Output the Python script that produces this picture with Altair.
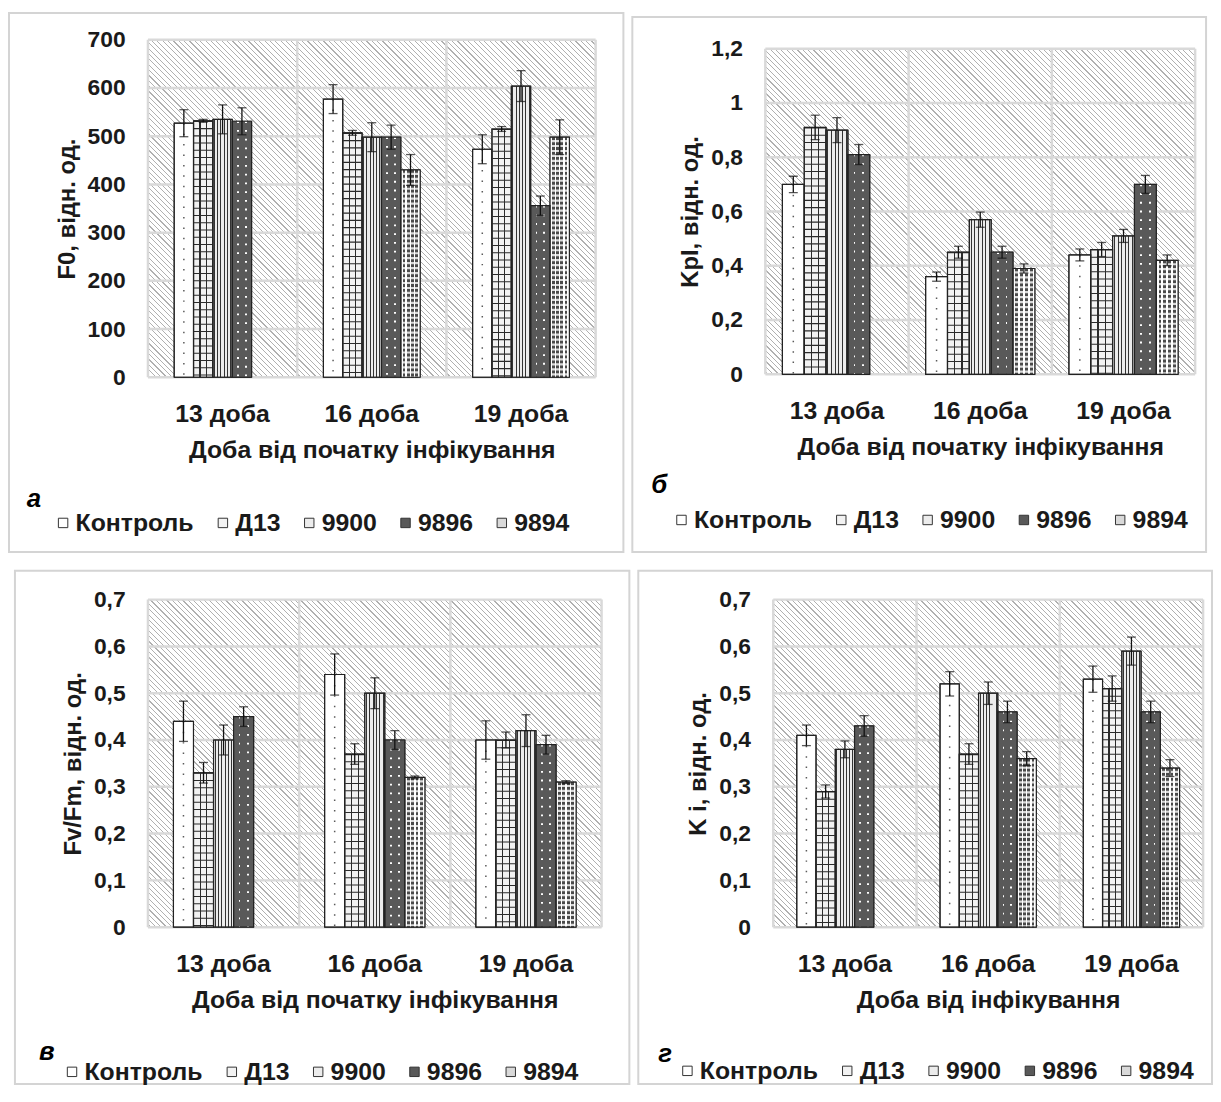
import altair as alt
import pandas as pd

GROUPS = ["13 доба", "16 доба", "19 доба"]
SERIES = ["Контроль", "Д13", "9900", "9896", "9894"]

# panel а : F0 (rows follow SERIES, columns follow GROUPS)
F0_VALUES = [[527, 577, 473], [532, 507, 515], [535, 498, 604], [531, 498, 356], [None, 430, 498]]
F0_ERRORS = [[28, 30, 30], [3, 5, 5], [30, 30, 32], [28, 25, 20], [None, 32, 36]]
F0_TICKS = [0, 100, 200, 300, 400, 500, 600, 700]

# panel б : KpI
KPI_VALUES = [[0.70, 0.36, 0.44], [0.91, 0.45, 0.46], [0.90, 0.57, 0.51], [0.81, 0.45, 0.70], [None, 0.39, 0.42]]
KPI_ERRORS = [[0.03, 0.017, 0.022], [0.045, 0.022, 0.026], [0.046, 0.028, 0.024], [0.037, 0.022, 0.033], [None, 0.017, 0.02]]
KPI_TICKS = [0, 0.2, 0.4, 0.6, 0.8, 1, 1.2]

# panel в : Fv/Fm
FV_VALUES = [[0.44, 0.54, 0.40], [0.33, 0.37, 0.40], [0.40, 0.50, 0.42], [0.45, 0.40, 0.39], [None, 0.32, 0.31]]
FV_ERRORS = [[0.043, 0.044, 0.041], [0.022, 0.022, 0.017], [0.032, 0.033, 0.034], [0.021, 0.02, 0.02], [None, 0.003, 0.003]]
FV_TICKS = [0, 0.1, 0.2, 0.3, 0.4, 0.5, 0.6, 0.7]

# panel г : K i
KI_VALUES = [[0.41, 0.52, 0.53], [0.29, 0.37, 0.51], [0.38, 0.50, 0.59], [0.43, 0.46, 0.46], [None, 0.36, 0.34]]
KI_ERRORS = [[0.022, 0.026, 0.028], [0.014, 0.022, 0.027], [0.018, 0.024, 0.03], [0.022, 0.023, 0.023], [None, 0.015, 0.018]]
KI_TICKS = [0, 0.1, 0.2, 0.3, 0.4, 0.5, 0.6, 0.7]

FONT = "Liberation Sans, Arial, Helvetica, sans-serif"
INK = "#1a1a1a"
GRID = "#d9d9d9"
CLEAR = "rgba(255,255,255,0)"
FILL_RANGE = ["#ffffff", "#f2f2f2", "#ececec", "#595959", "#d9d9d9"]


def long_table(values, errors):
    rows = []
    for s, vals, errs in zip(SERIES, values, errors):
        for g, v, e in zip(GROUPS, vals, errs):
            if v is None:
                continue
            rows.append({"group": g, "series": s, "value": v, "err": e})
    return pd.DataFrame(rows)


def stops_from(intervals, on, off):
    stops = [{"offset": 0, "color": off}]
    for a, b in intervals:
        a = round(max(0.0, min(1.0, a)), 5)
        b = round(max(0.0, min(1.0, b)), 5)
        stops += [
            {"offset": a, "color": off},
            {"offset": a, "color": on},
            {"offset": b, "color": on},
            {"offset": b, "color": off},
        ]
    stops.append({"offset": 1, "color": off})
    return stops


def vstripes(intervals, on, off):
    return {"gradient": "linear", "x1": 0, "y1": 0, "x2": 1, "y2": 0,
            "stops": stops_from(intervals, on, off)}


def hatch(w, h, period=5.4, lw=1.2, line="#b0b0b0", bg="#ffffff"):
    total = w + h
    s = total / (w * w + h * h)
    intervals = []
    k = 0
    while True:
        a = (k * period + (period - lw) / 2) / total
        b = a + lw / total
        if b >= 1:
            break
        intervals.append((a, b))
        k += 1
    return {"gradient": "linear", "x1": 0, "y1": 1,
            "x2": round(w * s, 5), "y2": round(1 - h * s, 5),
            "stops": stops_from(intervals, line, bg)}


def panel(values, errors, ticks, y_title, x_title, letter, W, H, top, bw,
          frame, legend_at, letter_at):
    """top: pixel gap between the view top and the highest tick (layout only)."""
    df = long_table(values, errors)
    band = W / 3
    xs = alt.Scale(domain=GROUPS, paddingInner=0, paddingOuter=0)
    xos = alt.Scale(domain=SERIES, paddingInner=0, paddingOuter=0,
                    range=[round((band - 5 * bw) / 2, 2), round((band + 5 * bw) / 2, 2)])
    ys = alt.Scale(domain=[0, ticks[-1]], nice=False, zero=True, range=[H, top])
    x_axis = alt.Axis(title=x_title, labelAngle=0, grid=False, domain=False,
                      ticks=False, tickSize=0, labelPadding=25, titlePadding=11,
                      labelFontSize=25, titleFontSize=25)
    y_axis = alt.Axis(title=y_title, values=ticks, grid=False, domain=False,
                      ticks=False, tickSize=0, labelPadding=23, titlePadding=8,
                      labelFontSize=23, titleFontSize=24,
                      labelExpr="replace(format(datum.value, '~g'), '.', ',')")
    X = alt.X("group:N", scale=xs, axis=x_axis)
    XO = alt.XOffset("series:N", scale=xos)

    def Yf(field):
        return alt.Y(f"{field}:Q", scale=ys, axis=y_axis)

    base = alt.Chart(df)
    one = pd.DataFrame({"k": [0]})

    def only(name):
        return base.transform_filter(alt.datum.series == name)

    layers = []
    # hatched plot background
    layers.append(alt.Chart(one).mark_rect(fill=hatch(W, H - top)).encode(
        x=alt.value(0), x2=alt.value(W), y=alt.value(top), y2=alt.value(H)))
    # gridlines
    layers.append(alt.Chart(pd.DataFrame({"tick": ticks})).mark_rule(
        color=GRID, strokeWidth=2.5).encode(y=Yf("tick")))
    layers.append(alt.Chart(pd.DataFrame({"group": GROUPS})).mark_rule(
        color=GRID, strokeWidth=2.5).encode(
        x=alt.X("group:N", scale=xs, axis=x_axis, bandPosition=0),
        y=alt.value(top), y2=alt.value(H)))
    layers.append(alt.Chart(pd.DataFrame({"group": GROUPS[-1:]})).mark_rule(
        color=GRID, strokeWidth=2.5).encode(
        x=alt.X("group:N", scale=xs, axis=x_axis, bandPosition=1),
        y=alt.value(top), y2=alt.value(H)))

    legend = alt.Legend(orient="none", legendX=legend_at[0], legendY=legend_at[1],
                        direction="horizontal", title=None)
    layers.append(base.mark_bar(stroke="#222222", strokeWidth=1).encode(
        x=X, xOffset=XO, y=Yf("value"),
        fill=alt.Fill("series:N", scale=alt.Scale(domain=SERIES, range=FILL_RANGE),
                      legend=legend)))

    # Контроль: sparse dots
    layers.append(only("Контроль").mark_rule(
        color="#5a5a5a", strokeWidth=1.5, strokeDash=[1.5, 9]).encode(
        x=X, xOffset=XO, y=Yf("value"), y2=alt.Y2Datum(0)))

    # Д13: lattice
    u = 1.1 / bw
    layers.append(only("Д13").mark_rule(
        color="#2b2b2b", strokeWidth=bw - 1, strokeDash=[1.1, 6.2]).encode(
        x=X, xOffset=XO, y=Yf("value"), y2=alt.Y2Datum(0)))
    layers.append(only("Д13").mark_bar(
        fill=vstripes([(1 / 3 - u / 2, 1 / 3 + u / 2), (2 / 3 - u / 2, 2 / 3 + u / 2)],
                      "#2b2b2b", CLEAR)).encode(x=X, xOffset=XO, y=Yf("value")))

    # 9900: fine stripes
    n = 6
    u = 1.0 / bw
    layers.append(only("9900").mark_bar(
        fill=vstripes([((i + 0.5) / n - u / 2, (i + 0.5) / n + u / 2) for i in range(n)],
                      "#333333", CLEAR)).encode(x=X, xOffset=XO, y=Yf("value")))

    # 9896: dark with white dots
    layers.append(only("9896").mark_rule(
        color="#ffffff", strokeWidth=bw - 1, strokeDash=[1.8, 7]).encode(
        x=X, xOffset=XO, y=Yf("value"), y2=alt.Y2Datum(0)))
    w = 1.8 / bw
    layers.append(only("9896").mark_bar(
        fill=vstripes([(c - w / 2, c + w / 2) for c in (0.3, 0.7)], CLEAR, "#595959")).encode(
        x=X, xOffset=XO, y=Yf("value")))

    # 9894: dark specks
    layers.append(only("9894").mark_rule(
        color="#4a4a4a", strokeWidth=bw - 1, strokeDash=[2.8, 2.2]).encode(
        x=X, xOffset=XO, y=Yf("value"), y2=alt.Y2Datum(0)))
    w = 2.8 / bw
    layers.append(only("9894").mark_bar(
        fill=vstripes([(c - w / 2, c + w / 2) for c in (0.17, 0.39, 0.61, 0.83)], CLEAR, "#ffffff")).encode(
        x=X, xOffset=XO, y=Yf("value")))

    # bar outlines
    layers.append(base.mark_bar(fillOpacity=0, stroke="#222222", strokeWidth=1.2).encode(
        x=X, xOffset=XO, y=Yf("value")))

    # error bars
    eb = base.transform_calculate(lo="datum.value - datum.err", hi="datum.value + datum.err")
    layers.append(eb.mark_rule(color="#111111", strokeWidth=1.3).encode(
        x=X, xOffset=XO, y=Yf("lo"), y2=alt.Y2("hi")))
    layers.append(eb.mark_tick(color="#111111", thickness=1.3, size=9).encode(
        x=X, xOffset=XO, y=Yf("lo")))
    layers.append(eb.mark_tick(color="#111111", thickness=1.3, size=9).encode(
        x=X, xOffset=XO, y=Yf("hi")))

    # panel letter
    layers.append(alt.Chart(pd.DataFrame({"letter": [letter]})).mark_text(
        font=FONT, fontSize=26, fontWeight="bold", fontStyle="italic", color="#000000",
        align="center", baseline="middle").encode(
        x=alt.value(letter_at[0]), y=alt.value(letter_at[1]), text="letter:N"))

    # panel frame
    layers.append(alt.Chart(one).mark_rect(fillOpacity=0, stroke="#d4d4d4", strokeWidth=2).encode(
        x=alt.value(frame[0]), x2=alt.value(frame[1]), y=alt.value(frame[2]), y2=alt.value(frame[3])))

    return alt.layer(*layers).properties(width=W, height=H)


pa = panel(F0_VALUES, F0_ERRORS, F0_TICKS, "F0, відн. од.", "Доба від початку інфікування", "а",
           451, 340, 0, 19.5, (-140, 479, -27, 516), (-98, 474), (-115, 463))
pb = panel(KPI_VALUES, KPI_ERRORS, KPI_TICKS, "KpI, відн. од.", "Доба від початку інфікування", "б",
           433, 337, 9, 22.0, (-134, 444, -23, 516), (-97, 471), (-107, 449))
pc = panel(FV_VALUES, FV_ERRORS, FV_TICKS, "Fv/Fm, відн. од.", "Доба від початку інфікування", "в",
           457, 330, 0, 20.2, (-134, 485, -29, 488), (-89, 463), (-102, 456))
pd_ = panel(KI_VALUES, KI_ERRORS, KI_TICKS, "K і, відн. од.", "Доба від інфікування", "г",
            433, 330, 0, 19.4, (-136, 442, -29, 488), (-99, 462), (-109, 458))

top = alt.hconcat(pa, pb, spacing=7).resolve_scale(fill="independent", xOffset="independent").resolve_legend(fill="independent")
bottom = alt.hconcat(pc, pd_, spacing=7).resolve_scale(fill="independent", xOffset="independent").resolve_legend(fill="independent")

chart = (
    alt.vconcat(top, bottom, spacing=17)
    .resolve_scale(fill="independent", xOffset="independent")
    .resolve_legend(fill="independent")
    .properties(padding=0)
    .configure(font=FONT)
    .configure_view(strokeWidth=0)
    .configure_axis(labelFont=FONT, titleFont=FONT, labelFontWeight="bold",
                    titleFontWeight="bold", labelColor=INK, titleColor=INK)
    .configure_legend(labelFont=FONT, labelFontWeight="bold", labelColor=INK,
                      labelFontSize=25, symbolType="square", symbolSize=90,
                      symbolStrokeColor="#333333", symbolStrokeWidth=1,
                      labelOffset=0, columnPadding=16)
)

chart.save("out.html", embed_options={"renderer": "svg", "actions": False})
